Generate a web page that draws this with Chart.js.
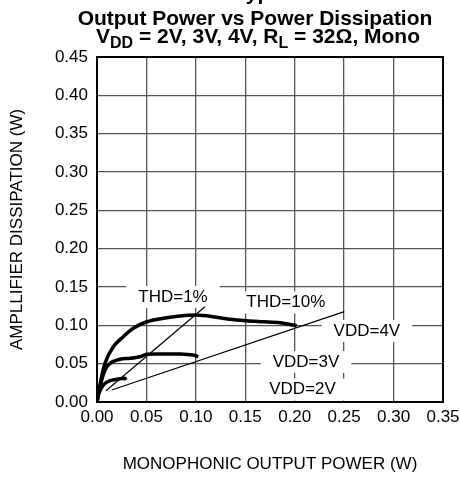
<!DOCTYPE html>
<html>
<head>
<meta charset="utf-8">
<script src="https://cdn.jsdelivr.net/npm/chart.js@4.4.1/dist/chart.umd.min.js"></script>
<style>
  html, body { margin: 0; padding: 0; background: #fff; }
  #wrap { width: 460px; height: 480px; }
</style>
</head>
<body>
<div id="wrap"><canvas id="dissChart" width="460" height="480"></canvas></div>
<script>
// output power (W) against amplifier dissipation (W)
const power4V = [0, 0.0013, 0.0081, 0.0165, 0.0266, 0.0367, 0.0503, 0.0671, 0.084, 0.1008, 0.1176, 0.1345, 0.1514, 0.1682, 0.1851, 0.202];
const diss4V  = [0, 0.0113, 0.0505, 0.0721, 0.0852, 0.0961, 0.1047, 0.1092, 0.1122, 0.1135, 0.1113, 0.1079, 0.106, 0.1047, 0.1034, 0.0995];

const power3V = [0, 0.003, 0.0081, 0.0132, 0.0233, 0.0334, 0.0435, 0.0503, 0.0671, 0.084, 0.0974, 0.1025];
const diss3V  = [0, 0.020, 0.0417, 0.0505, 0.0557, 0.057, 0.0591, 0.0622, 0.0626, 0.0626, 0.0613, 0.0591];

const power2V = [0, 0.002, 0.0064, 0.0132, 0.0199, 0.0283, 0.0293];
const diss2V  = [0, 0.0117, 0.0222, 0.0278, 0.0296, 0.0309, 0.0287];

// THD limit lines
const thd1Power  = [0.0091, 0.1092];
const thd1Diss   = [0.0147, 0.1243];
const thd10Power = [0.0149, 0.2501];
const thd10Diss  = [0.0157, 0.1178];

const xMax = 0.35, yMax = 0.45, tickStep = 0.05;

// text notes on the plot: text, power, dissipation
const notes = [
  ['THD=1%', 0.0769, 0.137],
  ['THD=10%', 0.191, 0.1298],
  ['VDD=4V', 0.273, 0.0926],
  ['VDD=3V', 0.2114, 0.0522],
  ['VDD=2V', 0.2079, 0.0163]
];

const pts = (xs, ys) => xs.map((x, i) => ({ x: x, y: ys[i] }));
const FONT = '"Liberation Sans", Arial, Helvetica, sans-serif';

const curve = (data) => ({
  data: data,
  borderColor: '#000',
  borderWidth: 3.5,
  pointRadius: 0,
  tension: 0.3,
  fill: false
});
const thin = (data) => ({
  data: data,
  borderColor: '#000',
  borderWidth: 1.2,
  pointRadius: 0,
  tension: 0,
  fill: false
});

const decorations = {
  id: 'decorations',
  beforeDatasetsDraw(chart) {
    const ctx = chart.ctx;
    const xs = chart.scales.x, ys = chart.scales.y;
    ctx.save();
    ctx.font = '17px ' + FONT;
    ctx.textAlign = 'center';
    ctx.textBaseline = 'middle';
    notes.forEach(([txt, px, py]) => {
      const cx = xs.getPixelForValue(px);
      const cy = ys.getPixelForValue(py);
      const w = ctx.measureText(txt).width;
      ctx.fillStyle = '#fff';
      ctx.fillRect(cx - w / 2 - 12, cy - 11, w + 24, 22);
      ctx.fillStyle = '#000';
      ctx.fillText(txt, cx, cy);
    });
    ctx.restore();
  },
  afterDraw(chart) {
    const ctx = chart.ctx;
    const a = chart.chartArea;
    ctx.save();
    ctx.strokeStyle = '#000';
    ctx.lineWidth = 2;
    ctx.strokeRect(a.left, a.top, a.right - a.left, a.bottom - a.top);

    ctx.fillStyle = '#000';
    ctx.textBaseline = 'alphabetic';
    ctx.textAlign = 'center';
    ctx.font = 'bold 21px ' + FONT;
    ctx.fillText('Typical', 270, 0);
    ctx.fillText('Output Power vs Power Dissipation', 255, 25);

    // second title line with subscripts
    const parts = [['V', 0], ['DD', 1], [' = 2V, 3V, 4V, R', 0], ['L', 1], [' = 32\u03A9, Mono', 0]];
    const mainFont = 'bold 21px ' + FONT, subFont = 'bold 16px ' + FONT;
    let total = 0;
    parts.forEach(p => { ctx.font = p[1] ? subFont : mainFont; total += ctx.measureText(p[0]).width; });
    let x = 258 - total / 2;
    ctx.textAlign = 'left';
    parts.forEach(p => {
      ctx.font = p[1] ? subFont : mainFont;
      ctx.fillText(p[0], x, p[1] ? 48 : 43);
      x += ctx.measureText(p[0]).width;
    });
    ctx.restore();
  }
};

new Chart(document.getElementById('dissChart'), {
  type: 'line',
  data: {
    datasets: [
      curve(pts(power4V, diss4V)),
      curve(pts(power3V, diss3V)),
      curve(pts(power2V, diss2V)),
      thin(pts(thd1Power, thd1Diss)),
      thin(pts(thd10Power, thd10Diss))
    ]
  },
  options: {
    responsive: false,
    animation: false,
    layout: { padding: { top: 57, right: 17, left: 0, bottom: 0 } },
    plugins: {
      legend: { display: false },
      tooltip: { enabled: false }
    },
    scales: {
      x: {
        type: 'linear',
        min: 0,
        max: xMax,
        afterFit(scale) { scale.height = 78; scale.paddingRight = 0; scale.paddingLeft = 0; },
        ticks: {
          stepSize: tickStep,
          padding: 5,
          color: '#000',
          font: { family: FONT, size: 17 },
          callback: v => v.toFixed(2)
        },
        grid: { color: '#555', lineWidth: 1.3, drawTicks: false },
        border: { display: true, color: '#000', width: 2 },
        title: {
          display: true,
          text: 'MONOPHONIC OUTPUT POWER (W)',
          color: '#000',
          font: { family: FONT, size: 17 },
          padding: { top: 0, bottom: 5 }
        }
      },
      y: {
        type: 'linear',
        min: 0,
        max: yMax,
        afterFit(scale) { scale.width = 97; scale.paddingTop = 0; scale.paddingBottom = 0; },
        ticks: {
          stepSize: tickStep,
          padding: 9,
          color: '#000',
          font: { family: FONT, size: 17 },
          callback: v => v.toFixed(2)
        },
        grid: { color: '#555', lineWidth: 1.3, drawTicks: false },
        border: { display: true, color: '#000', width: 2 },
        title: {
          display: true,
          text: 'AMPLLIFIER DISSIPATION (W)',
          color: '#000',
          font: { family: FONT, size: 17 },
          padding: { top: 7, bottom: 0 }
        }
      }
    }
  },
  plugins: [decorations]
});
</script>
</body>
</html>
